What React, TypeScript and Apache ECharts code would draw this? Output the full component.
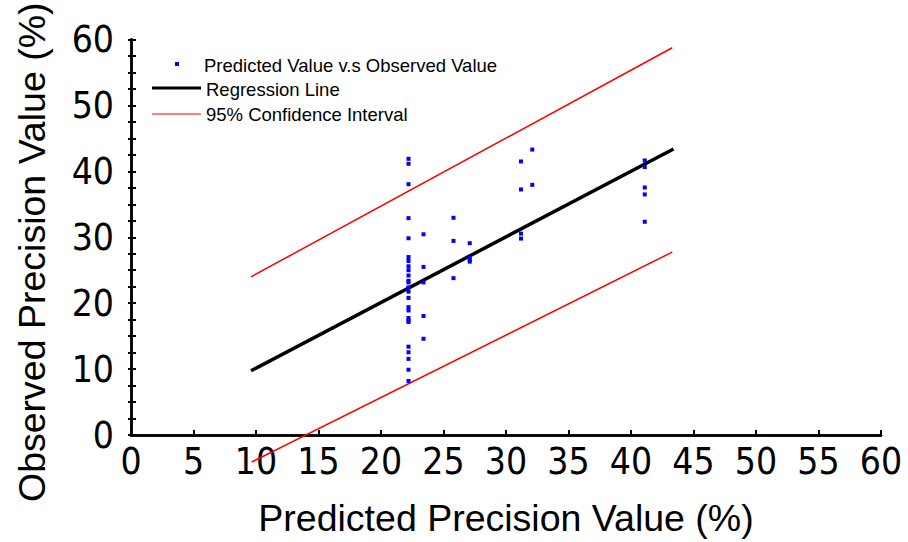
import React, { useEffect, useRef } from "react";
import * as echarts from "echarts";

// Scatter: predicted vs observed precision (%)
const predictedX: number[] = [
  22.2, 22.2, 22.2, 22.2, 22.2, 22.2, 22.2, 22.2, 22.2, 22.2, 22.2, 22.2, 22.2,
  22.2, 22.2, 22.2, 22.2, 22.2, 22.2, 22.2, 22.2, 22.2, 22.2, 22.2, 22.2,
  23.4, 23.4, 23.4, 23.4, 23.4,
  25.8, 25.8, 25.8,
  27.1, 27.1, 27.1, 27.1,
  31.2, 31.2, 31.2, 31.2,
  32.1, 32.1,
  41.1, 41.1, 41.1, 41.1, 41.1,
];
const observedY: number[] = [
  41.9, 41.15, 38.05, 32.9, 29.85, 27.0, 26.4, 25.6, 25.0, 24.2, 23.4, 23.15, 22.4,
  21.75, 20.8, 19.4, 18.9, 17.75, 17.4, 17.15, 13.4, 12.55, 11.55, 9.9, 8.2,
  30.45, 25.5, 23.15, 18.05, 14.6,
  32.95, 29.45, 23.8,
  29.1, 26.9, 26.55, 26.3,
  41.5, 37.25, 30.55, 29.8,
  43.3, 37.95,
  41.65, 40.65, 37.55, 36.5, 32.35,
];

// Lines (endpoints)
const regressionX: number[] = [9.6, 43.4];
const regressionY: number[] = [9.75, 43.4];
const upperCIX: number[] = [9.6, 43.3];
const upperCIY: number[] = [24.0, 58.75];
const lowerCIX: number[] = [9.65, 43.3];
const lowerCIY: number[] = [-4.1, 27.75];

const legendLabels: string[] = [
  "Predicted Value v.s Observed Value",
  "Regression Line",
  "95% Confidence Interval",
];

const FONT = "'Liberation Sans', Arial, Helvetica, sans-serif";
const NARROW = "'Liberation Sans Narrow', 'Arial Narrow', 'DejaVu Sans Condensed', sans-serif";

const zip = (xs: number[], ys: number[]) => xs.map((x, i) => [x, ys[i]]);

export default function App() {
  const ref = useRef<HTMLDivElement>(null);
  useEffect(() => {
    if (!ref.current) return;
    const chart = echarts.init(ref.current, null, { renderer: "svg" });
    const axisLine = { show: true, lineStyle: { color: "#000", width: 2.5 } };
    chart.setOption({
      animation: false,
      backgroundColor: "#fff",
      textStyle: { fontFamily: FONT },
      grid: { left: 131, top: 36, width: 750, height: 400, containLabel: false },
      xAxis: [
        {
          type: "value",
          min: 0,
          max: 60,
          interval: 5,
          position: "bottom",
          axisLine,
          axisTick: { show: true, inside: true, length: 5, lineStyle: { color: "#000", width: 2 } },
          axisLabel: { color: "#000", fontSize: 37, fontFamily: NARROW, margin: 8 },
          splitLine: { show: false },
          name: "Predicted Precision Value (%)",
          nameLocation: "middle",
          nameGap: 64,
          nameTextStyle: { color: "#000", fontSize: 37.5, fontFamily: FONT },
        },
        {
          type: "value",
          min: 0,
          max: 60,
          interval: 5,
          position: "top",
          axisLine,
          axisTick: { show: false },
          axisLabel: { show: false },
          splitLine: { show: false },
        },
      ],
      yAxis: [
        {
          type: "value",
          min: 0,
          max: 60,
          interval: 10,
          position: "left",
          axisLine,
          axisTick: { show: true, inside: true, length: 5, lineStyle: { color: "#000", width: 2 } },
          minorTick: { show: true, splitNumber: 4, length: 5, lineStyle: { color: "#000", width: 2 } },
          axisLabel: { color: "#000", fontSize: 37, fontFamily: NARROW, margin: 17 },
          splitLine: { show: false },
          minorSplitLine: { show: false },
          name: "Observed Precision Value (%)",
          nameLocation: "middle",
          nameGap: 80,
          nameTextStyle: { color: "#000", fontSize: 37.5, fontFamily: FONT, padding: [0, 30, 0, 0] },
        },
        {
          type: "value",
          min: 0,
          max: 60,
          interval: 10,
          position: "right",
          axisLine,
          axisTick: { show: true, inside: true, length: 3, lineStyle: { color: "#000", width: 2 } },
          minorTick: { show: true, splitNumber: 4, length: 3, lineStyle: { color: "#000", width: 2 } },
          axisLabel: { show: false },
          splitLine: { show: false },
          minorSplitLine: { show: false },
        },
      ],
      series: [
        {
          name: legendLabels[0],
          type: "scatter",
          data: zip(predictedX, observedY),
          symbol: "rect",
          symbolSize: 4,
          itemStyle: { color: "#0000ff", opacity: 1 },
          z: 5,
        },
        {
          name: legendLabels[1],
          type: "line",
          data: zip(regressionX, regressionY),
          showSymbol: false,
          symbol: "none",
          lineStyle: { color: "#000", width: 3.5 },
          z: 4,
        },
        {
          name: legendLabels[2],
          type: "line",
          data: zip(upperCIX, upperCIY),
          showSymbol: false,
          symbol: "none",
          clip: false,
          lineStyle: { color: "#ff0000", width: 1.5 },
          z: 3,
        },
        {
          name: legendLabels[2] + " ",
          type: "line",
          data: zip(lowerCIX, lowerCIY),
          showSymbol: false,
          symbol: "none",
          clip: false,
          lineStyle: { color: "#ff0000", width: 1.5 },
          z: 3,
        },
      ],
      graphic: [
        { type: "rect", shape: { x: 175, y: 62, width: 4, height: 4 }, style: { fill: "#0000ff" } },
        {
          type: "text",
          x: 204,
          y: 65,
          style: { text: legendLabels[0], fill: "#000", font: `18.5px ${FONT}`, verticalAlign: "middle" },
        },
        {
          type: "line",
          shape: { x1: 152, y1: 88, x2: 201, y2: 88 },
          style: { stroke: "#000", lineWidth: 3 },
        },
        {
          type: "text",
          x: 206,
          y: 89,
          style: { text: legendLabels[1], fill: "#000", font: `18.5px ${FONT}`, verticalAlign: "middle" },
        },
        {
          type: "line",
          shape: { x1: 152, y1: 114, x2: 201, y2: 114 },
          style: { stroke: "#ff0000", lineWidth: 1 },
        },
        {
          type: "text",
          x: 206,
          y: 114,
          style: { text: legendLabels[2], fill: "#000", font: `18.5px ${FONT}`, verticalAlign: "middle" },
        },
      ],
    });
    return () => chart.dispose();
  }, []);
  return (
    <div
      ref={ref}
      style={{ position: "absolute", left: 0, top: 0, width: 908, height: 542 }}
    />
  );
}
